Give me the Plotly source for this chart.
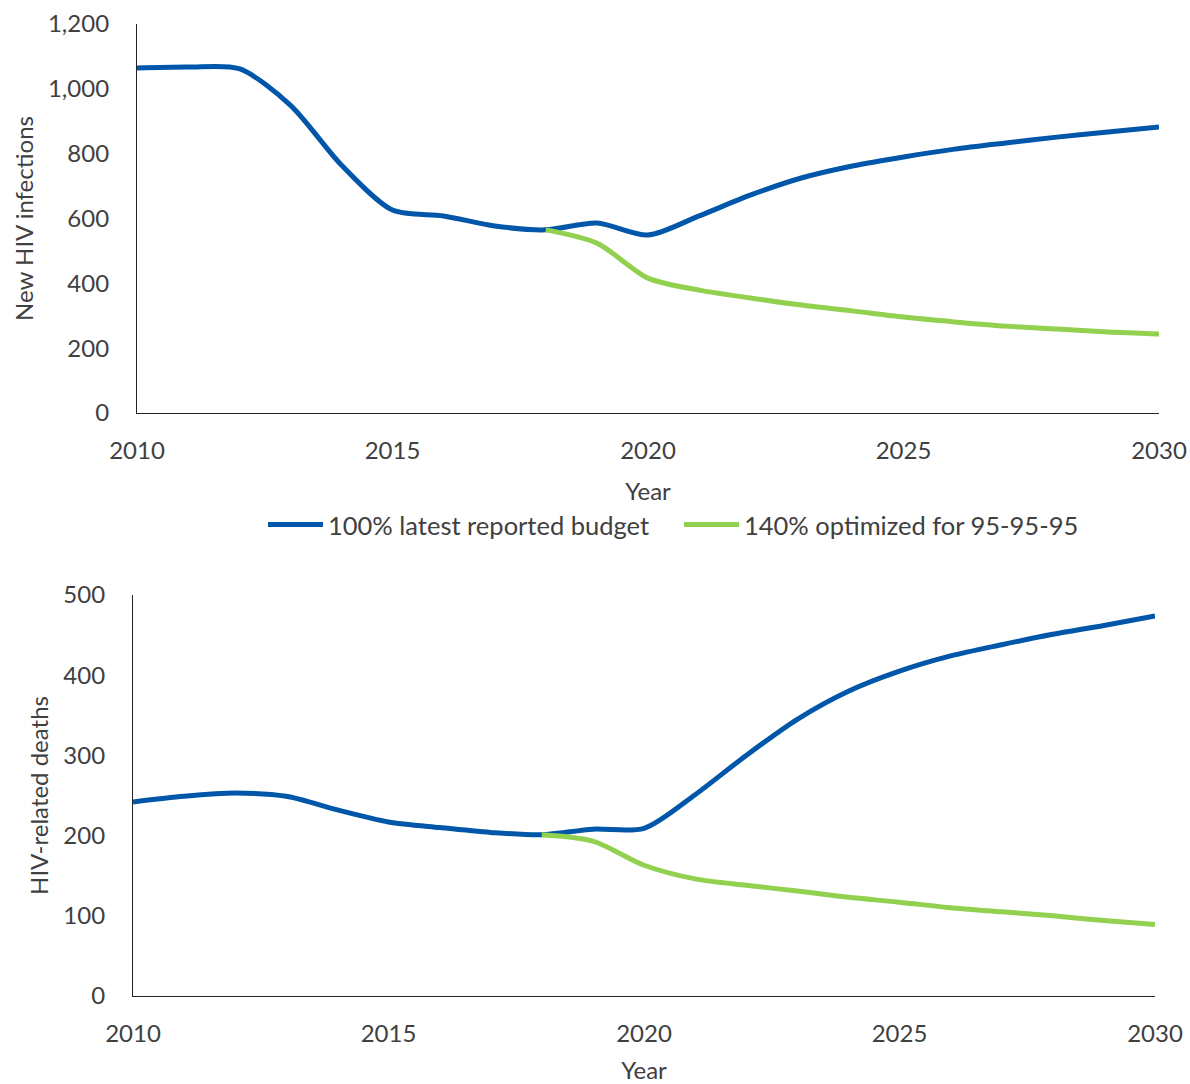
import plotly.graph_objects as go

years = list(range(2010, 2031))
years_opt = list(range(2018, 2031))

inf_base = [1064, 1067, 1062, 950, 765, 626, 608, 577, 565, 586, 549, 608, 672, 725, 762, 790, 814, 833, 851, 867, 882]
inf_opt = [565, 524, 416, 379, 355, 333, 315, 296, 281, 268, 259, 250, 244]

dth_base = [242, 249, 253, 249, 232, 217, 210, 204, 201, 208, 209, 251, 300, 345, 380, 405, 424, 438, 451, 462, 474]
dth_opt = [201, 193, 163, 146, 138, 131, 123, 117, 110, 105, 100, 94, 89]

name_base = "100% latest reported budget"
name_opt = "140% optimized for 95-95-95"

BLUE = "#0056A8"
GREEN = "#92D050"
TXT = "#404040"
FONT = "Lato"

W, H = 1190, 1084

fig = go.Figure()
fig.add_trace(go.Scatter(x=years, y=inf_base, mode="lines", name=name_base,
                         line=dict(color=BLUE, width=5, shape="spline", smoothing=0.8),
                         xaxis="x", yaxis="y"))
fig.add_trace(go.Scatter(x=years_opt, y=inf_opt, mode="lines", name=name_opt,
                         line=dict(color=GREEN, width=5, shape="spline", smoothing=0.8),
                         xaxis="x", yaxis="y"))
fig.add_trace(go.Scatter(x=years, y=dth_base, mode="lines", name=name_base, showlegend=False,
                         line=dict(color=BLUE, width=5, shape="spline", smoothing=0.8),
                         xaxis="x2", yaxis="y2"))
fig.add_trace(go.Scatter(x=years_opt, y=dth_opt, mode="lines", name=name_opt, showlegend=False,
                         line=dict(color=GREEN, width=5, shape="spline", smoothing=0.8),
                         xaxis="x2", yaxis="y2"))

def xd(a, b):
    return [a / W, b / W]

def yd(top, bottom):
    return [1 - bottom / H, 1 - top / H]

axfont = dict(family=FONT, size=24, color=TXT)

common_x = dict(range=[2010, 2030], dtick=5, tick0=2010, showgrid=False, zeroline=False,
                showline=True, linecolor="#222222", linewidth=1.2, ticks="",
                tickfont=axfont, ticklabelstandoff=16, automargin=False,
                ticklabeloverflow="allow",
                title=dict(text="Year", font=axfont, standoff=20))
common_y = dict(showgrid=False, zeroline=False, showline=True, linecolor="#222222",
                linewidth=1.2, ticks="", tickfont=axfont, ticklabelstandoff=22,
                automargin=False, ticklabeloverflow="allow")

fig.update_layout(
    width=W, height=H,
    margin=dict(l=0, r=0, t=0, b=0),
    paper_bgcolor="white", plot_bgcolor="white",
    font=dict(family=FONT, color=TXT),
    xaxis=dict(domain=xd(137, 1159), anchor="y", **common_x),
    yaxis=dict(domain=yd(24, 413), anchor="x", range=[0, 1200], dtick=200, tickformat=",",
               title=dict(text="New HIV infections", font=axfont, standoff=7), **common_y),
    xaxis2=dict(domain=xd(133, 1155), anchor="y2", **common_x),
    yaxis2=dict(domain=yd(595, 996), anchor="x2", range=[0, 500], dtick=100,
                title=dict(text="HIV-related deaths", font=axfont, standoff=7), **common_y),
    legend=dict(orientation="h", x=679 / W, xanchor="center",
                y=1 - 525 / H, yanchor="middle",
                font=dict(family=FONT, size=25.5, color=TXT), itemwidth=55,
                entrywidth=346, entrywidthmode="pixels",
                bgcolor="rgba(0,0,0,0)"),
    showlegend=True,
)

fig.write_html("out.html",
               config={"displayModeBar": False},
               post_script="document.body.style.margin='0';document.body.style.overflow='hidden';")
